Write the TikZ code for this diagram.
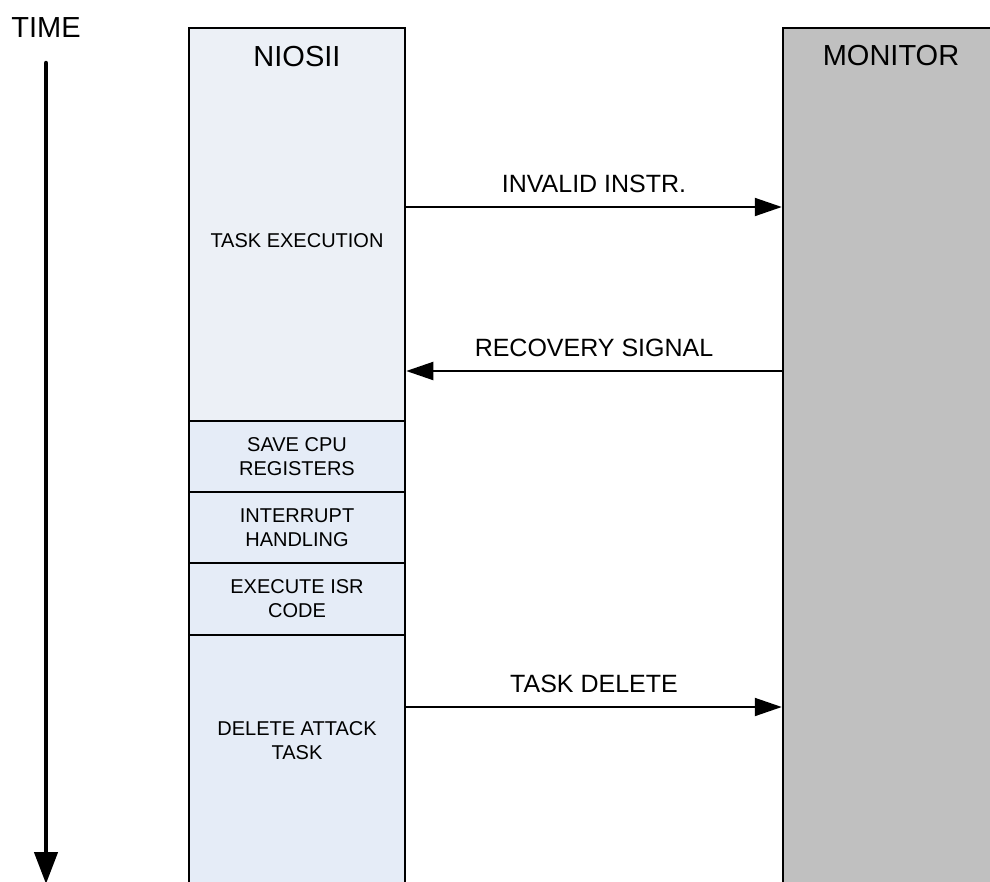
\documentclass[tikz,border=0pt]{standalone}
\usepackage{fontspec}
\setmainfont{Liberation Sans}
\usetikzlibrary{arrows.meta,positioning}
\definecolor{niosfill}{RGB}{236,240,246}
\definecolor{isrfill}{RGB}{229,236,247}
\definecolor{monfill}{RGB}{192,192,192}

\begin{document}
\begin{tikzpicture}[x=1pt,y=-1pt,
  seg/.style={draw,line width=2.5pt,fill=isrfill,minimum width=216pt,inner sep=0pt,align=center,font=\fontsize{20}{24}\selectfont},
  sig/.style={line width=2pt,-{Triangle[length=27pt,width=18pt]}},
  lbl/.style={font=\fontsize{25}{30}\selectfont,inner sep=0pt,above=13.5pt},
  big/.style={font=\fontsize{29}{34}\selectfont,anchor=base},
  small/.style={font=\fontsize{20}{24}\selectfont,align=center}]
\useasboundingbox(0,0)rectangle(990,881);
\clip(0,0)rectangle(990,881);
% time axis
\node[big](time)at(46,37){TIME};
\coordinate(ttop)at(46,63);
\coordinate(tend)at(46,884);
\draw[line width=4.5pt,line cap=round,-{Triangle[length=32pt,width=23pt]}](ttop)--(tend);
% NIOSII column
\node[seg,fill=niosfill,minimum height=393pt](exec)at(297,224.5){};
\node[seg,minimum height=71pt](save)at(297,456.5){SAVE CPU\\REGISTERS};
\node[seg,minimum height=71pt](irq)at(297,527.5){INTERRUPT\\HANDLING};
\node[seg,minimum height=72pt](isr)at(297,599){EXECUTE ISR\\CODE};
\node[seg,minimum height=270pt](del)at(297,770){};
\node[big](nios)at(297,66){NIOSII};
\node[small,anchor=base](exectxt)at(297,247){TASK EXECUTION};
\node[small](deltxt)at(297,741){DELETE ATTACK\\TASK};
% monitor
\node[seg,fill=monfill,minimum height=877pt](mon)at(891,466.5){};
\node[big](montxt)at(891,65){MONITOR};
% signals
\coordinate(s1)at(0,207);
\coordinate(s2)at(0,371);
\coordinate(s3)at(0,707);
\draw[sig](exec.east|-s1)--node[lbl]{INVALID INSTR.}(mon.west|-s1);
\draw[sig](mon.west|-s2)--node[lbl]{RECOVERY SIGNAL}(exec.east|-s2);
\draw[sig](del.east|-s3)--node[lbl]{TASK DELETE}(mon.west|-s3);
\end{tikzpicture}
\end{document}
